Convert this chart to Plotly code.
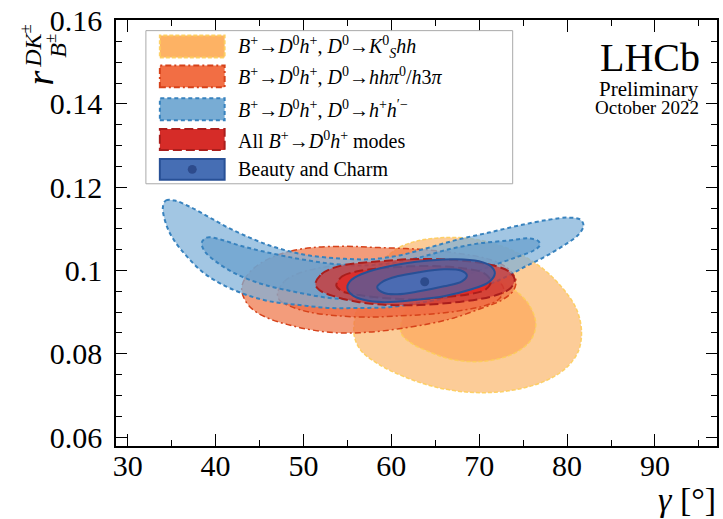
import plotly.graph_objects as go

# ---------------- data (gamma [deg], r_B^{DK}) ----------------
# B+ -> D0 h+, D0 -> KS hh
ks_2s_g = [55.78, 55.89, 56.57, 57.71, 59.18, 60.88, 63.15, 65.99, 68.83, 71.66, 74.5, 77.33,
           79.6, 81.08, 81.64, 81.3, 79.94, 77.33, 73.36, 69.39, 65.42, 61.68, 58.62, 56.57]
ks_2s_r = [0.0843, 0.0891, 0.0939, 0.0986, 0.1027, 0.1055, 0.1072, 0.1079, 0.1077, 0.1065, 0.1041, 0.1003,
           0.0955, 0.0907, 0.0855, 0.0807, 0.0767, 0.0733, 0.0711, 0.0707, 0.0718, 0.0743, 0.0774, 0.0807]
ks_1s_g = [61.11, 61.34, 62.24, 63.72, 65.99, 68.83, 71.66, 73.93, 75.63, 76.43, 75.97, 74.5,
           72.23, 69.39, 66.56, 64.06, 62.24]
ks_1s_r = [0.0850, 0.0891, 0.0931, 0.0962, 0.0984, 0.0991, 0.0981, 0.0955, 0.0919, 0.0874, 0.0836, 0.0807,
           0.0788, 0.0781, 0.0788, 0.0807, 0.0826]

# B+ -> D0 h+, D0 -> hh pi0 / h3pi
hp_2s_g = [42.97, 43.3, 44.44, 46.14, 48.41, 51.02, 54.87, 58.62, 63.15, 67.69, 71.1, 73.14, 74.16,
           73.93, 72.57, 69.96, 67.12, 64.29, 60.88, 57.48, 54.08, 51.02, 48.41, 46.14, 44.44, 43.42]
hp_2s_r = [0.0955, 0.0979, 0.1007, 0.1029, 0.1046, 0.1055, 0.1058, 0.1055, 0.1051, 0.1041, 0.1027, 0.1007, 0.0979,
           0.0953, 0.0929, 0.0907, 0.0886, 0.0872, 0.0860, 0.0852, 0.0850, 0.0857, 0.0869, 0.0884, 0.0903, 0.0926]
hp_1s_g = [47.05, 47.84, 49.54, 52.94, 57.48, 62.02, 66.56, 69.96, 72.0, 72.79, 72.23, 70.53,
           67.69, 64.29, 60.88, 57.48, 54.08, 50.67, 48.41, 47.27]
hp_1s_r = [0.0946, 0.0974, 0.0994, 0.1010, 0.1017, 0.1017, 0.1010, 0.0998, 0.0979, 0.0955, 0.0931, 0.0915,
           0.0903, 0.0895, 0.0891, 0.0888, 0.0891, 0.0900, 0.0915, 0.0929]

# B+ -> D0 h+, D0 -> h+ h'-
hh_2s_g = [34.0, 34.34, 35.36, 37.07, 39.34, 41.6, 43.87, 46.14, 48.41, 50.67, 54.08, 57.48, 60.88,
           64.29, 67.69, 71.1, 74.5, 77.9, 80.17, 81.53, 81.87,
           81.3, 79.83, 77.56, 75.29, 72.79, 69.96, 66.56, 63.15, 59.75, 56.35, 52.94, 49.54,
           46.14, 43.3, 40.7, 38.54, 36.73, 35.36, 34.46]
hh_2s_r = [0.1151, 0.1168, 0.1168, 0.1153, 0.1127, 0.1101, 0.1079, 0.1060, 0.1046, 0.1036, 0.1029, 0.1027, 0.1036,
           0.1055, 0.1075, 0.1091, 0.1108, 0.1122, 0.1127, 0.1122, 0.1108,
           0.1086, 0.1063, 0.1034, 0.1010, 0.0982, 0.0958, 0.0936, 0.0922, 0.0912, 0.0910, 0.0910, 0.0917,
           0.0926, 0.0943, 0.0967, 0.0996, 0.1034, 0.1070, 0.1106]
hh_1s_g = [38.43, 38.99, 40.47, 42.74, 45.35, 49.2, 52.94, 56.35, 59.75, 63.15, 66.56, 69.96, 73.36,
           75.63, 76.77, 76.88, 76.2, 74.5, 72.23, 69.39, 66.56, 63.15, 59.75, 56.35, 52.94, 49.2,
           45.35, 42.4, 40.13, 38.77]
hh_1s_r = [0.1067, 0.1079, 0.1075, 0.1060, 0.1046, 0.1029, 0.1017, 0.1012, 0.1017, 0.1031, 0.1051, 0.1065, 0.1072,
           0.1077, 0.1070, 0.1060, 0.1048, 0.1034, 0.1017, 0.0996, 0.0974, 0.0955, 0.0941, 0.0931, 0.0934, 0.0948,
           0.0967, 0.0991, 0.1020, 0.1046]

# All B+ -> D0 h+ modes
dh_2s_g = [51.36, 52.04, 53.51, 55.78, 58.62, 62.02, 65.42, 68.83, 71.66, 73.36, 74.04, 73.59,
           72.23, 69.96, 66.56, 63.15, 59.75, 56.35, 53.51, 51.81]
dh_2s_r = [0.0967, 0.0991, 0.1007, 0.1017, 0.1022, 0.1027, 0.1027, 0.1022, 0.1012, 0.0998, 0.0979, 0.0958,
           0.0943, 0.0931, 0.0922, 0.0917, 0.0917, 0.0924, 0.0938, 0.0953]
dh_1s_g = [53.74, 54.42, 56.12, 58.62, 62.02, 65.42, 68.26, 70.53, 71.33, 70.76, 68.83, 65.99,
           62.58, 59.18, 56.35, 54.42]
dh_1s_r = [0.0964, 0.0986, 0.0998, 0.1005, 0.1010, 0.1010, 0.1005, 0.0994, 0.0974, 0.0955, 0.0943, 0.0936,
           0.0931, 0.0934, 0.0941, 0.0950]

# Beauty and Charm combination
bc_2s_g = [54.99, 55.44, 56.57, 58.62, 61.45, 64.29, 67.35, 69.96, 71.33, 71.78, 71.1, 68.83,
           65.99, 62.58, 59.18, 56.92, 55.44]
bc_2s_r = [0.0960, 0.0977, 0.0991, 0.1005, 0.1017, 0.1024, 0.1027, 0.1022, 0.1010, 0.0993, 0.0972, 0.0953,
           0.0938, 0.0929, 0.0924, 0.0929, 0.0943]
bc_1s_g = [58.39, 59.07, 60.66, 63.15, 65.99, 67.92, 68.6, 68.03, 65.99, 63.15, 60.66, 59.18]
bc_1s_r = [0.0960, 0.0974, 0.0986, 0.0996, 0.1003, 0.1000, 0.0988, 0.0974, 0.0962, 0.0950, 0.0943, 0.0946]
bc_best_g = [63.8]
bc_best_r = [0.0973]

legend_labels = [
    "<i>B</i><sup>+</sup>→<i>D</i><sup>0</sup><i>h</i><sup>+</sup>, <i>D</i><sup>0</sup>→<i>K</i><sup>0</sup><sub><i>S</i></sub><i>hh</i>",
    "<i>B</i><sup>+</sup>→<i>D</i><sup>0</sup><i>h</i><sup>+</sup>, <i>D</i><sup>0</sup>→<i>hhπ</i><sup>0</sup>/<i>h</i>3<i>π</i>",
    "<i>B</i><sup>+</sup>→<i>D</i><sup>0</sup><i>h</i><sup>+</sup>, <i>D</i><sup>0</sup>→<i>h</i><sup>+</sup><i>h</i><sup>′−</sup>",
    "All <i>B</i><sup>+</sup>→<i>D</i><sup>0</sup><i>h</i><sup>+</sup> modes",
    "Beauty and Charm",
]

x_tickvals = [30, 40, 50, 60, 70, 80, 90]
x_ticktext = ["30", "40", "50", "60", "70", "80", "90"]
y_tickvals = [0.06, 0.08, 0.10, 0.12, 0.14, 0.16]
y_ticktext = ["0.06", "0.08", "0.1", "0.12", "0.14", "0.16"]

# ---------------- styles ----------------
FONT = "Liberation Serif"
styles = [
    # (outer fill, inner fill, line colour, dash, width)
    ("rgba(251,187,118,0.75)", "rgba(253,169,93,0.75)", "rgba(253,205,90,0.9)", "4px,2px", 1.5),
    ("rgba(239,118,72,0.72)", "rgba(239,105,65,0.72)", "rgb(214,66,26)", "6px,3px,2px,3px", 1.5),
    ("rgba(126,176,216,0.72)", "rgba(104,160,205,0.72)", "rgb(55,130,190)", "4px,3px", 2),
    ("rgba(205,55,52,0.78)", "rgba(228,38,32,0.75)", "rgb(170,30,28)", "9px,4px", 2),
    ("rgba(70,98,170,0.70)", "rgba(68,112,186,0.85)", "rgb(40,80,150)", "solid", 2),
]
contours = [
    (ks_2s_g, ks_2s_r, ks_1s_g, ks_1s_r),
    (hp_2s_g, hp_2s_r, hp_1s_g, hp_1s_r),
    (hh_2s_g, hh_2s_r, hh_1s_g, hh_1s_r),
    (dh_2s_g, dh_2s_r, dh_1s_g, dh_1s_r),
    (bc_2s_g, bc_2s_r, bc_1s_g, bc_1s_r),
]

fig = go.Figure()


def closed(a):
    return list(a) + [a[0]]


for (g2, r2, g1, r1), (fo, fi, lc, dash, lw) in zip(contours, styles):
    fig.add_trace(go.Scatter(x=closed(g2), y=closed(r2), mode="lines", fill="toself",
                             fillcolor=fo, line=dict(color=lc, dash=dash, width=lw, shape="spline", smoothing=1.0),
                             hoverinfo="skip", showlegend=False))
    fig.add_trace(go.Scatter(x=closed(g1), y=closed(r1), mode="lines", fill="toself",
                             fillcolor=fi, line=dict(color=lc, dash=dash, width=lw, shape="spline", smoothing=1.0),
                             hoverinfo="skip", showlegend=False))

fig.add_trace(go.Scatter(x=bc_best_g, y=bc_best_r, mode="markers",
                         marker=dict(color="rgb(45,75,140)", size=9), hoverinfo="skip", showlegend=False))

# ---------------- hand-made legend ----------------
L, R, T, B = 116, 719, 17.3, 445.7
W, H = R - L, B - T


def px(x):
    return (x - L) / W


def py(y):
    return (B - y) / H


shapes = [dict(type="rect", xref="paper", yref="paper", x0=px(146), x1=px(514), y0=py(182), y1=py(28),
               line=dict(color="rgb(170,170,170)", width=1), fillcolor="white", layer="above")]
rows = [(33, 55), (63, 85), (96, 118), (127, 148), (157, 178)]
legend_fill = ["rgb(253,178,100)", "rgb(242,110,68)", "rgb(120,172,212)", "rgb(214,44,40)", "rgb(70,110,180)"]
annotations = []
for (t, b), fc, st, lab in zip(rows, legend_fill, styles, legend_labels):
    shapes.append(dict(type="rect", xref="paper", yref="paper", x0=px(160), x1=px(225), y0=py(b), y1=py(t),
                       fillcolor=fc, line=dict(color=st[2], dash=st[3], width=2), layer="above"))
    annotations.append(dict(xref="paper", yref="paper", x=px(236), y=py((t + b) / 2), text=lab,
                            showarrow=False, xanchor="left", yanchor="middle",
                            font=dict(family=FONT, size=20, color="black")))
shapes.append(dict(type="circle", xref="paper", yref="paper", x0=px(188), x1=px(197), y0=py(172), y1=py(163),
                   fillcolor="rgb(45,75,140)", line=dict(width=0), layer="above"))

# LHCb label
annotations += [
    dict(xref="paper", yref="paper", x=px(704), y=py(55), text="LHCb", showarrow=False,
         xanchor="right", yanchor="middle", font=dict(family=FONT, size=40, color="black")),
    dict(xref="paper", yref="paper", x=px(703), y=py(87), text="Preliminary", showarrow=False,
         xanchor="right", yanchor="middle", font=dict(family=FONT, size=21, color="black")),
    dict(xref="paper", yref="paper", x=px(703), y=py(105), text="October 2022", showarrow=False,
         xanchor="right", yanchor="middle", font=dict(family=FONT, size=19, color="black")),
    # axis titles
    dict(xref="paper", yref="paper", x=px(720), y=py(499), text="<i>γ</i> [°]", showarrow=False,
         xanchor="right", yanchor="middle", font=dict(family=FONT, size=34, color="black")),
    dict(xref="paper", yref="paper", x=px(40), y=py(76), text="<i>r</i>", showarrow=False, textangle=-90,
         xanchor="center", yanchor="middle", font=dict(family=FONT, size=38, color="black")),
    dict(xref="paper", yref="paper", x=px(30), y=py(43), text="<i>DK</i><sup>±</sup>", showarrow=False,
         textangle=-90, xanchor="center", yanchor="middle", font=dict(family=FONT, size=24, color="black")),
    dict(xref="paper", yref="paper", x=px(55), y=py(43), text="<i>B</i><sup>±</sup>", showarrow=False,
         textangle=-90, xanchor="center", yanchor="middle", font=dict(family=FONT, size=24, color="black")),
]

axis_common = dict(showline=True, linecolor="black", linewidth=1.5, mirror="ticks", ticks="inside",
                   tickcolor="black", tickwidth=1.2, showgrid=False, zeroline=False)

fig.update_layout(
    width=723, height=519,
    margin=dict(l=116, r=4, t=17, b=73),
    paper_bgcolor="white", plot_bgcolor="white",
    font=dict(family=FONT, color="black"),
    showlegend=False,
    shapes=shapes, annotations=annotations,
    xaxis=dict(range=[28.67, 97.06], tickvals=x_tickvals, ticktext=x_ticktext, ticklen=12,
               tickfont=dict(family="Liberation Serif", size=30, color="black"),
               minor=dict(dtick=5, tick0=0, ticklen=6, ticks="inside", tickcolor="black", tickwidth=1.2),
               ticklabelstandoff=-8, **axis_common),
    yaxis=dict(range=[0.05785, 0.16016], tickvals=y_tickvals, ticktext=y_ticktext, ticklen=11,
               tickfont=dict(family="Liberation Serif", size=30, color="black"),
               minor=dict(dtick=0.005, tick0=0, ticklen=6, ticks="inside", tickcolor="black", tickwidth=1.2),
               ticklabelstandoff=6, **axis_common),
)

fig.write_html("out.html")
